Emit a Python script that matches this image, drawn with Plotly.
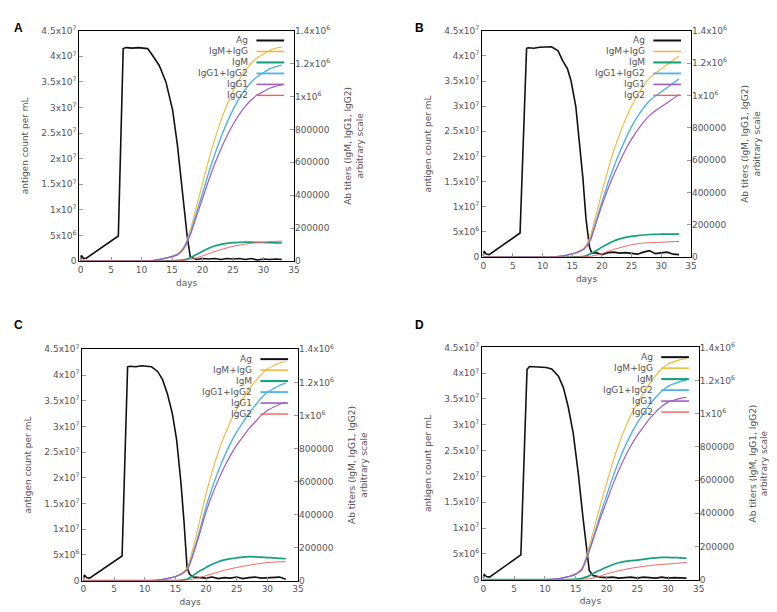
import plotly.graph_objects as go

# antigen curves (days, count per mL in millions)
ag_days_a = [0, 0.15, 0.5, 1.0, 6.2, 7.0, 7.5, 8.5, 9.5, 10.5, 11, 11.85, 12.9, 14, 15.1, 15.9, 16.7, 17.5, 18, 18.5,
             19, 20, 21, 22, 23, 24, 25, 26, 27, 28, 29, 30, 31, 32, 33]
ag_a = [0.2, 1.1, 0.5, 0.6, 4.9, 41.5, 41.7, 41.6, 41.7, 41.6, 41.5, 40.1, 38.2, 35.0, 29.5, 22.5, 13.6, 4.7, 0.8, 0.5,
        0.3, 0.5, 0.4, 0.5, 0.3, 0.5, 0.4, 0.5, 0.3, 0.5, 0.2, 0.4, 0.3, 0.4, 0.3]

ag_days_b = [0, 0.15, 0.5, 1.0, 6.2, 7.3, 7.6, 8.5, 9.5, 10.5, 11.5, 12.6, 13.4, 14.2, 14.8, 15.6, 16.2, 16.8, 17.3, 17.9, 18.3,
             19, 20, 21, 22, 23, 24, 25, 26, 27, 28, 29, 30, 31, 32, 33]
ag_b = [0.3, 1.2, 0.6, 0.5, 4.8, 41.5, 41.6, 41.5, 41.7, 41.8, 41.8, 41.0, 39.0, 37.4, 35.0, 29.9, 23.4, 15.6, 7.8, 2.0, 0.8,
        0.9, 0.5, 0.9, 1.0, 0.8, 0.9, 0.8, 0.6, 1.0, 1.3, 0.7, 0.9, 1.0, 0.6, 0.5]

ag_days_c = [0, 0.15, 0.5, 1.0, 6.3, 7.2, 7.6, 8.5, 9.5, 10.5, 11.1, 12.1, 12.9, 13.7, 14.5, 15.2, 15.9, 16.4, 16.9, 17.3, 17.9,
             19, 20, 21, 22, 23, 24, 25, 26, 27, 28, 29, 30, 31, 32, 33]
ag_c = [0.3, 1.1, 0.6, 0.5, 4.8, 41.6, 41.7, 41.6, 41.8, 41.7, 41.6, 40.7, 39.1, 36.3, 32.5, 27.4, 19.1, 11.5, 2.5, 1.3, 0.7,
        0.6, 0.5, 0.7, 0.4, 0.6, 0.5, 0.7, 0.4, 0.6, 0.7, 0.5, 0.6, 0.6, 0.7, 0.3]

ag_days_d = [0, 0.15, 0.5, 1.0, 6.1, 7.1, 7.5, 8.5, 9.5, 10.2, 11.1, 12.2, 13.0, 13.8, 14.6, 15.4, 16.2, 16.7, 17.2, 17.8,
             19, 20, 21, 22, 23, 24, 25, 26, 27, 28, 29, 30, 31, 32, 33]
ag_d = [0.3, 1.0, 0.6, 0.5, 4.8, 40.7, 41.3, 41.2, 41.2, 41.1, 40.8, 39.4, 37.2, 33.4, 28.4, 20.8, 11.9, 6.2, 1.8, 0.8,
        0.5, 0.4, 0.5, 0.3, 0.4, 0.5, 0.3, 0.5, 0.4, 0.3, 0.5, 0.3, 0.4, 0.3, 0.3]

# antibody titers (thousands)
ab_days = [0, 10, 12, 13, 14, 15, 16, 17, 18, 19, 20, 21, 22, 23, 24, 25, 26, 27, 28, 29, 30, 31, 32, 33]

igmg_a = [0, 0, 4, 10, 19, 30, 46, 92, 190, 330, 472, 613, 740, 852, 948, 1032, 1101, 1158, 1203, 1236, 1258, 1280, 1293, 1301]
igm_a = [0, 0, 0, 0, 1, 2, 4, 8, 20, 40, 60, 78, 92, 102, 108, 112, 114, 115, 115, 114, 113, 112, 111, 110]
igg12_a = [0, 0, 4, 10, 18, 28, 42, 84, 170, 290, 412, 535, 648, 750, 840, 920, 987, 1043, 1088, 1122, 1145, 1168, 1182, 1191]
igg1_a = [0, 0, 4, 10, 18, 27, 40, 80, 160, 270, 380, 490, 590, 680, 760, 830, 890, 940, 980, 1010, 1030, 1050, 1062, 1070]
igg2_a = [0, 0, 0, 0, 0, 1, 2, 4, 10, 20, 32, 45, 58, 70, 80, 90, 97, 103, 108, 112, 115, 118, 120, 121]

igmg_b = [0, 0, 2, 6, 12, 21, 35, 57, 125, 262, 404, 537, 658, 761, 855, 935, 1001, 1059, 1105, 1137, 1164, 1191, 1218, 1244]
igm_b = [0, 0, 0, 0, 0, 1, 2, 5, 20, 40, 62, 82, 100, 113, 122, 128, 133, 137, 140, 141, 142, 142, 142, 142]
igg12_b = [0, 0, 2, 6, 12, 20, 33, 52, 105, 222, 342, 455, 558, 648, 733, 807, 868, 922, 965, 996, 1022, 1049, 1076, 1102]
igg1_b = [0, 0, 2, 6, 12, 20, 32, 50, 100, 210, 320, 420, 510, 590, 665, 730, 785, 835, 875, 905, 930, 955, 980, 1005]
igg2_b = [0, 0, 0, 0, 0, 0, 1, 2, 5, 12, 22, 35, 48, 58, 68, 77, 83, 87, 90, 91, 92, 94, 96, 97]

igmg_c = [0, 0, 3, 8, 15, 26, 44, 83, 215, 370, 526, 662, 778, 879, 965, 1038, 1100, 1159, 1204, 1247, 1280, 1300, 1317, 1328]
igm_c = [0, 0, 0, 0, 0, 1, 3, 10, 35, 60, 80, 100, 115, 126, 133, 138, 143, 145, 144, 142, 140, 138, 135, 133]
igg12_c = [0, 0, 3, 8, 15, 25, 41, 73, 180, 310, 446, 562, 663, 753, 832, 900, 957, 1014, 1060, 1105, 1140, 1162, 1182, 1195]
igg1_c = [0, 0, 3, 8, 15, 25, 40, 70, 170, 290, 416, 520, 610, 690, 760, 820, 870, 920, 960, 1000, 1030, 1050, 1068, 1080]
igg2_c = [0, 0, 0, 0, 0, 0, 1, 3, 10, 20, 30, 42, 53, 63, 72, 80, 87, 94, 100, 105, 110, 112, 114, 115]

igmg_d = [0, 0, 5, 12, 21, 36, 70, 175, 312, 450, 579, 705, 816, 912, 994, 1063, 1123, 1183, 1231, 1271, 1299, 1314, 1326, 1333]
igm_d = [0, 0, 0, 0, 1, 3, 8, 20, 40, 58, 75, 90, 102, 110, 115, 118, 123, 128, 132, 134, 134, 133, 132, 130]
igg12_d = [0, 0, 5, 12, 20, 33, 62, 155, 272, 392, 504, 615, 714, 802, 879, 945, 1000, 1055, 1099, 1137, 1165, 1181, 1194, 1203]
igg1_d = [0, 0, 5, 12, 20, 32, 60, 150, 260, 370, 469, 570, 660, 740, 810, 870, 920, 970, 1010, 1045, 1070, 1083, 1093, 1099]
igg2_d = [0, 0, 0, 0, 0, 1, 2, 5, 12, 22, 35, 45, 54, 62, 69, 75, 80, 85, 89, 92, 95, 98, 101, 104]

left_vals = [0, 5e6, 1e7, 1.5e7, 2e7, 2.5e7, 3e7, 3.5e7, 4e7, 4.5e7]
left_text = ["0", "5x10<sup>6</sup>", "1x10<sup>7</sup>", "1.5x10<sup>7</sup>", "2x10<sup>7</sup>",
             "2.5x10<sup>7</sup>", "3x10<sup>7</sup>", "3.5x10<sup>7</sup>", "4x10<sup>7</sup>", "4.5x10<sup>7</sup>"]
right_vals = [0, 200000, 400000, 600000, 800000, 1e6, 1.2e6, 1.4e6]
right_text = ["0", "200000", "400000", "600000", "800000", "1x10<sup>6</sup>", "1.2x10<sup>6</sup>", "1.4x10<sup>6</sup>"]

names = ["Ag", "IgM+IgG", "IgM", "IgG1+IgG2", "IgG1", "IgG2"]
colors = ["#111111", "#f0b830", "#13a07a", "#4fb3ea", "#a05cc0", "#f2605a"]
widths = [1.6, 1.1, 1.7, 1.4, 1.2, 1.0]

panels = [
    ("A", ag_days_a, ag_a, [igmg_a, igm_a, igg12_a, igg1_a, igg2_a], [70, 287], [16, 251], (2, 4)),
    ("B", ag_days_b, ag_b, [igmg_b, igm_b, igg12_b, igg1_b, igg2_b], [477, 688], [16, 247], (407, 4)),
    ("C", ag_days_c, ag_c, [igmg_c, igm_c, igg12_c, igg1_c, igg2_c], [73, 291], [341, 577], (2, 307)),
    ("D", ag_days_d, ag_d, [igmg_d, igm_d, igg12_d, igg1_d, igg2_d], [477, 696], [339, 576], (407, 307)),
]

W, H = 777, 612
font = dict(family="DejaVu Sans, sans-serif", size=9, color="#555555")
fig = go.Figure()
annotations = []
shapes = []

for i, (lab, agx, agy, abs_, xpx, ypx, labpos) in enumerate(panels):
    n = i + 1
    xa = "x" if n == 1 else f"x{n}"
    yl = f"y{2 * n - 1}" if n > 1 else "y"
    yr = f"y{2 * n}"
    fig.add_trace(go.Scatter(x=agx, y=[v * 1e6 for v in agy], mode="lines", xaxis=xa, yaxis=yl,
                             line=dict(color=colors[0], width=widths[0]), showlegend=False))
    for k, ser in enumerate(abs_):
        fig.add_trace(go.Scatter(x=ab_days, y=[v * 1000 for v in ser], mode="lines", xaxis=xa, yaxis=yr,
                                 line=dict(color=colors[k + 1], width=widths[k + 1], shape="spline", smoothing=0.6),
                                 showlegend=False))

    xd = [xpx[0] / W, xpx[1] / W]
    yd = [1 - ypx[1] / H, 1 - ypx[0] / H]
    axis_common = dict(showgrid=False, zeroline=False, ticks="inside", ticklen=4, tickcolor="#999999",
                       tickfont=font, linecolor="#000000", linewidth=1)
    xkey = "xaxis" if n == 1 else f"xaxis{n}"
    ylkey = "yaxis" if n == 1 else f"yaxis{2 * n - 1}"
    yrkey = f"yaxis{2 * n}"
    fig.layout[xkey] = dict(domain=xd, anchor=yl, range=[-0.2, 35], tickvals=[0, 5, 10, 15, 20, 25, 30, 35],
                            showline=True, mirror=True,
                            title=dict(text="days", font=font, standoff=5), **axis_common)
    fig.layout[ylkey] = dict(domain=yd, anchor=xa, range=[0, 4.5e7], tickvals=left_vals, ticktext=left_text,
                             showline=True, mirror=True,
                             title=dict(text="antigen count per mL", font=font, standoff=11),
                             **axis_common)
    fig.layout[yrkey] = dict(domain=yd, anchor=xa, overlaying=yl, side="right", range=[0, 1.4e6],
                             tickvals=right_vals, ticktext=right_text, showline=False,
                             title=dict(text="Ab titers (IgM, IgG1, IgG2)<br>arbitrary scale",
                                        font=font, standoff=15),
                             **axis_common)

    # gnuplot-style key: right-aligned text, sample line on the right
    pw = xpx[1] - xpx[0]
    ph = ypx[1] - ypx[0]
    for k, nm in enumerate(names):
        yy = 1 - (10 + 11.2 * k) / ph
        annotations.append(dict(text=nm, xref=f"{xa} domain", yref=f"{yl} domain", x=1 - 44 / pw, y=yy,
                                xanchor="right", yanchor="middle", showarrow=False, font=font))
        shapes.append(dict(type="line", xref=f"{xa} domain", yref=f"{yl} domain", x0=1 - 38 / pw, x1=1 - 10 / pw,
                           y0=yy, y1=yy, line=dict(color=colors[k], width=widths[k] + 0.4)))
    annotations.append(dict(text=f"<b>{lab}</b>", xref="paper", yref="paper", x=labpos[0] / W, y=1 - labpos[1] / H,
                            xanchor="left", yanchor="top", showarrow=False,
                            font=dict(family="Liberation Sans, Arial, sans-serif", size=12, color="#000000")))

fig.update_layout(width=W, height=H, margin=dict(l=0, r=0, t=0, b=0), paper_bgcolor="white",
                  plot_bgcolor="white", font=font, annotations=annotations, shapes=shapes, showlegend=False)
fig.write_html("out.html")
